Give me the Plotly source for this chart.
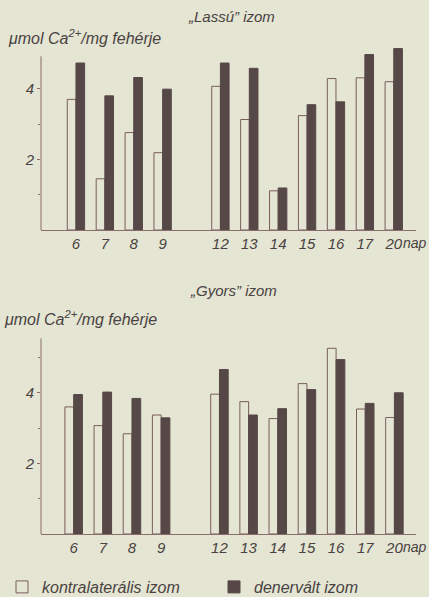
import plotly.graph_objects as go

# ---- data ----
days = ["6", "7", "8", "9", "12", "13", "14", "15", "16", "17", "20"]
lassu_kontralateralis = [3.70, 1.45, 2.76, 2.19, 4.07, 3.13, 1.11, 3.24, 4.29, 4.31, 4.20]
lassu_denervalt = [4.73, 3.80, 4.32, 3.99, 4.73, 4.58, 1.19, 3.55, 3.63, 4.97, 5.14]
gyors_kontralateralis = [3.60, 3.07, 2.84, 3.37, 3.96, 3.75, 3.27, 4.26, 5.26, 3.54, 3.30]
gyors_denervalt = [3.95, 4.02, 3.84, 3.29, 4.66, 3.37, 3.55, 4.09, 4.94, 3.70, 4.00]
y_ticks = [2, 4]

# ---- styling ----
W, H = 429, 597
BG = "#e4e5d2"
DARK = "#574848"
EDGE = "#7a5e5e"
AXIS = "#8a6c6a"
TXT = "#4a4242"
FONT = "Liberation Sans"
FS = 15

# slot positions: one empty slot between day 9 and day 12
slots = [i + (1 if int(d) >= 12 else 0) for i, d in enumerate(days)]

def px_y(p):
    return 1 - p / H

fig = go.Figure()

def add_pair(kontra, dener, xa, ya, show):
    fig.add_trace(go.Bar(x=slots, y=kontra, xaxis=xa, yaxis=ya, name="kontralaterális izom",
                         marker=dict(color=BG, line=dict(color=EDGE, width=1)),
                         showlegend=show, legend="legend"))
    fig.add_trace(go.Bar(x=slots, y=dener, xaxis=xa, yaxis=ya, name="denervált izom",
                         marker=dict(color=DARK, line=dict(color=DARK, width=1)),
                         showlegend=show, legend="legend2"))

add_pair(lassu_kontralateralis, lassu_denervalt, "x", "y", True)
add_pair(gyors_kontralateralis, gyors_denervalt, "x2", "y2", False)

xdom = [41 / W, 416 / W]
tickfont = dict(family=FONT, size=FS, color=TXT, style="italic")

xcommon = dict(domain=xdom, showgrid=False, zeroline=False, showline=True, linecolor=AXIS,
               linewidth=1, ticks="", tickmode="array", tickvals=slots, ticktext=days,
               tickfont=tickfont, fixedrange=True)
ycommon = dict(showgrid=False, zeroline=False, showline=False, ticks="outside", ticklen=3,
               tickcolor=AXIS, tickwidth=1, tickmode="array", tickvals=y_ticks,
               tickfont=tickfont)

legfont = dict(family=FONT, size=16, color=TXT, style="italic")
fig.update_layout(
    width=W, height=H,
    margin=dict(l=0, r=0, t=0, b=0, autoexpand=False),
    paper_bgcolor=BG, plot_bgcolor=BG,
    barmode="group", bargap=0.4, bargroupgap=0,
    font=dict(family=FONT, color=TXT, size=FS),
    xaxis=dict(**xcommon, range=[-1.21, 11.77], anchor="y"),
    yaxis=dict(**ycommon, domain=[px_y(230), px_y(42.9)], range=[0, 5.3], anchor="x",
               minor=dict(tickvals=[1, 3], ticks="outside", ticklen=2, tickcolor=AXIS)),
    xaxis2=dict(**xcommon, range=[-1.12, 11.74], anchor="y2"),
    yaxis2=dict(**ycommon, domain=[px_y(534), px_y(336.3)], range=[0, 5.6], anchor="x2",
                minor=dict(tickvals=[1, 3, 5], ticks="outside", ticklen=2, tickcolor=AXIS)),
    legend=dict(orientation="h", x=2 / W, y=px_y(587), yanchor="middle", xanchor="left",
                font=legfont, bgcolor="rgba(0,0,0,0)"),
    legend2=dict(orientation="h", x=214 / W, y=px_y(587), yanchor="middle", xanchor="left",
                 font=legfont, bgcolor="rgba(0,0,0,0)"),
)

# y-axis lines (axis drawn to its printed length)
fig.add_shape(type="line", xref="x domain", yref="y", x0=0, x1=0, y0=0, y1=4.92,
              line=dict(color=AXIS, width=1))
fig.add_shape(type="line", xref="x2 domain", yref="y2", x0=0, x1=0, y0=0, y1=5.54,
              line=dict(color=AXIS, width=1))

ann_font = dict(family=FONT, size=FS, color=TXT, style="italic")
annotations = [
    dict(text="„Lassú” izom", x=231 / W, y=px_y(16)),
    dict(text="„Gyors” izom", x=234 / W, y=px_y(290)),
]
for a in annotations:
    fig.add_annotation(text=a["text"], x=a["x"], y=a["y"], xref="paper", yref="paper",
                       xanchor="center", yanchor="middle", showarrow=False, font=ann_font)

ylabel = "μmol Ca<sup>2+</sup>/mg fehérje"
ylab_font = dict(family=FONT, size=16, color=TXT, style="italic")
fig.add_annotation(text=ylabel, x=6 / W, y=px_y(37), xref="paper", yref="paper",
                   xanchor="left", yanchor="middle", showarrow=False, font=ylab_font)
fig.add_annotation(text=ylabel, x=2 / W, y=px_y(318), xref="paper", yref="paper",
                   xanchor="left", yanchor="middle", showarrow=False, font=ylab_font)

for yy in (243, 547):
    fig.add_annotation(text="nap", x=1.0, y=px_y(yy), xref="paper", yref="paper",
                       xanchor="right", yanchor="middle", showarrow=False,
                       font=dict(family=FONT, size=14, color=TXT, style="italic"))

fig.write_html("out.html",
               config={"displayModeBar": False, "staticPlot": True},
               post_script="document.body.style.margin='0';"
                           "document.body.style.overflow='hidden';")
